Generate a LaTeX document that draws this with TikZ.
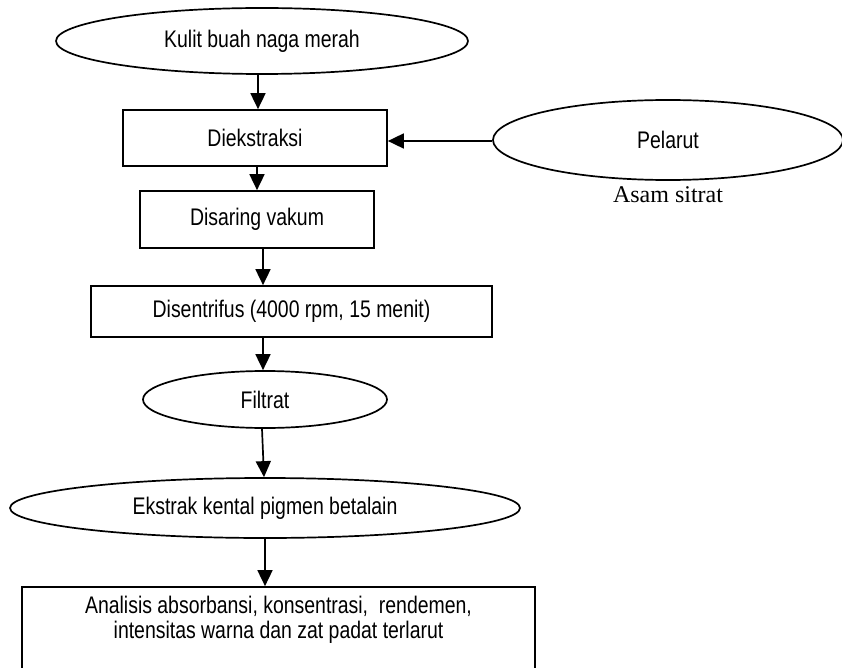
\documentclass[tikz,border=0pt]{standalone}
\usepackage{fontspec}
\setmainfont{Liberation Sans}[FakeStretch=0.81]
\newfontfamily\timesfont{Liberation Serif}
\usetikzlibrary{shapes.geometric,arrows.meta}
\begin{document}
\begin{tikzpicture}[x=1pt,y=-1pt,line width=1.7pt,
  every node/.style={font=\fontsize{24}{25}\selectfont,inner sep=0pt},
  procbox/.style={draw,rectangle,align=center},
  oval/.style={draw,ellipse},
  arr/.style={-{Triangle[width=15pt,length=16pt]}}]
\useasboundingbox (0,0) rectangle (842,668);
\node[oval,minimum width=412pt,minimum height=66pt] (kulit) at (262,41) {Kulit buah naga merah};
\node[procbox,minimum width=264pt,minimum height=56pt] (diek) at (255,138) {Diekstraksi};
\node[oval,minimum width=350pt,minimum height=80pt] (pelarut) at (668,140) {Pelarut};
\node[font=\timesfont\fontsize{24}{25}\selectfont] (asam) at (668,195) {Asam sitrat};
\node[procbox,minimum width=234pt,minimum height=57pt] (saring) at (257,219.5) {Disaring vakum};
\node[procbox,minimum width=401pt,minimum height=51pt] (sentri) at (291.5,311.5) {Disentrifus (4000 rpm, 15 menit)};
\node[oval,minimum width=244pt,minimum height=57pt] (filtrat) at (265,399.5) {Filtrat};
\node[oval,minimum width=510pt,minimum height=60pt] (ekstrak) at (265,508) {Ekstrak kental pigmen betalain};
\node[procbox,minimum width=513pt,minimum height=85pt] (analisis) at (278.5,629.5) {};
\node[align=center,font=\fontsize{24}{25}\selectfont] (antext) at (278.5,620) {Analisis absorbansi, konsentrasi,\ \ rendemen,\\intensitas warna dan zat padat terlarut};
\draw[arr] ([xshift=-4pt]kulit.south) -- ([xshift=3pt]diek.north);
\draw[arr] ([yshift=-1pt]pelarut.west) -- ([yshift=-3pt]diek.east);
\draw[arr] ([xshift=2pt]diek.south) -- ([xshift=0pt]saring.north);
\draw[arr] ([xshift=6pt]saring.south) -- ([xshift=-28.5pt]sentri.north);
\draw[arr] ([xshift=-28.5pt]sentri.south) -- ([xshift=-2pt]filtrat.north);
\draw[arr] ([xshift=-3pt]filtrat.south) -- ([xshift=-1pt]ekstrak.north);
\draw[arr] (ekstrak.south) -- ([xshift=-13.5pt]analisis.north);
\end{tikzpicture}
\end{document}
